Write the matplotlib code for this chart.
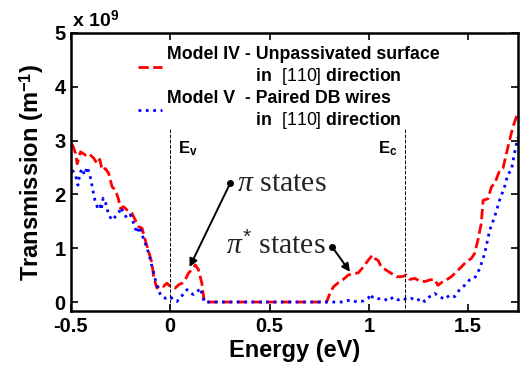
import numpy as np
import matplotlib
matplotlib.use('Agg')
import matplotlib.pyplot as plt

plt.rcParams['font.family'] = 'Liberation Sans'
plt.rcParams['mathtext.fontset'] = 'custom'
plt.rcParams['mathtext.rm'] = 'Liberation Sans'
plt.rcParams['mathtext.bf'] = 'Liberation Sans:bold'
plt.rcParams['mathtext.it'] = 'Liberation Serif:italic'

# transmission in units of 1e9 m^-1
energy_iv = [-0.494, -0.477, -0.469, -0.452, -0.427, -0.410, -0.385, -0.368, -0.355, -0.343,
             -0.327, -0.310, -0.293, -0.276, -0.260, -0.251, -0.235, -0.218, -0.193, -0.176,
             -0.159, -0.142, -0.126, -0.109, -0.092, -0.084, -0.075, -0.067, -0.050, -0.034,
             -0.017, 0.000, 0.025, 0.042, 0.059, 0.075, 0.092, 0.109, 0.126, 0.142,
             0.159, 0.171, 0.176, 0.787, 0.804, 0.821, 0.846, 0.871, 0.896, 0.921,
             0.946, 0.972, 0.997, 1.018, 1.030, 1.047, 1.063, 1.088, 1.114, 1.139,
             1.164, 1.189, 1.206, 1.231, 1.256, 1.281, 1.306, 1.331, 1.348, 1.365,
             1.390, 1.415, 1.440, 1.465, 1.491, 1.516, 1.532, 1.549, 1.566, 1.575,
             1.600, 1.617, 1.633, 1.658, 1.675, 1.692, 1.708, 1.725, 1.750]
trans_iv = [2.94, 2.76, 2.57, 2.79, 2.73, 2.76, 2.67, 2.57, 2.65, 2.45,
            2.48, 2.39, 2.14, 2.08, 1.90, 1.74, 1.77, 1.71, 1.65, 1.52,
            1.40, 1.37, 1.15, 0.94, 0.72, 0.48, 0.35, 0.26, 0.32, 0.29,
            0.35, 0.29, 0.26, 0.32, 0.35, 0.41, 0.54, 0.60, 0.69, 0.60,
            0.35, 0.01, 0.0, 0.0, 0.16, 0.28, 0.36, 0.42, 0.50, 0.53,
            0.54, 0.65, 0.78, 0.87, 0.81, 0.77, 0.65, 0.59, 0.53, 0.47,
            0.47, 0.50, 0.42, 0.44, 0.39, 0.38, 0.41, 0.42, 0.31, 0.36,
            0.41, 0.47, 0.56, 0.65, 0.75, 0.81, 0.90, 1.15, 1.46, 1.89,
            1.92, 2.14, 2.20, 2.44, 2.48, 2.75, 3.00, 3.25, 3.52]

energy_v = [-0.494, -0.477, -0.465, -0.455, -0.444, -0.432, -0.418, -0.405, -0.393, -0.380,
            -0.368, -0.355, -0.348, -0.338, -0.327, -0.310, -0.293, -0.276, -0.260, -0.248,
            -0.235, -0.218, -0.201, -0.184, -0.168, -0.156, -0.142, -0.126, -0.109, -0.092,
            -0.075, -0.059, -0.042, -0.025, 0.000, 0.017, 0.034, 0.050, 0.067, 0.084,
            0.100, 0.117, 0.134, 0.151, 0.164, 0.171, 0.871, 0.906, 0.940, 0.972,
            0.997, 1.008, 1.021, 1.047, 1.072, 1.097, 1.122, 1.147, 1.172, 1.189,
            1.214, 1.239, 1.264, 1.281, 1.306, 1.331, 1.356, 1.382, 1.407, 1.432,
            1.457, 1.482, 1.507, 1.532, 1.558, 1.583, 1.608, 1.633, 1.658, 1.683,
            1.700, 1.717, 1.734, 1.750]
trans_v = [2.45, 2.36, 2.17, 2.39, 2.48, 2.36, 2.51, 2.36, 2.14, 1.90,
           1.77, 1.83, 1.71, 1.93, 1.86, 1.62, 1.52, 1.59, 1.65, 1.76,
           1.65, 1.56, 1.62, 1.46, 1.28, 1.40, 1.25, 1.09, 0.91, 0.66,
           0.41, 0.20, 0.10, 0.07, 0.10, 0.04, 0.01, 0.10, 0.14, 0.23,
           0.17, 0.14, 0.18, 0.26, 0.10, 0.0, 0.0, 0.04, 0.0, 0.02,
           0.07, 0.15, 0.07, 0.06, 0.07, 0.02, 0.09, 0.04, 0.07, 0.04,
           0.07, 0.02, 0.07, 0.01, 0.10, 0.16, 0.10, 0.05, 0.13, 0.10,
           0.23, 0.31, 0.41, 0.44, 0.62, 0.90, 1.33, 1.58, 1.89, 2.14,
           2.38, 2.44, 2.78, 3.06]

band_edges = [0.0, 1.18]
band_labels = [r'E$_{\mathbf{v}}$', r'E$_{\mathbf{c}}$']
band_label_x = [0.04, 1.045]

indent = ' ' * 18
label_iv = 'Model IV - Unpassivated surface\n' + indent + 'in  $\\mathrm{[110]}$ direction'
label_v = 'Model V  - Paired DB wires\n' + indent + 'in  $\\mathrm{[110]}$ direction'

# annotations: text, dot (arrow start), arrow tip, text position
notes = [r'$\pi$ states', r'$\pi^{*}$ states']
note_start = [(0.302, 2.21), (0.816, 1.02)]
note_tip = [(0.097, 0.65), (0.905, 0.56)]
note_text = [(0.335, 2.2), (0.785, 1.03)]
note_ha = ['left', 'right']

fig = plt.figure(figsize=(5.22, 3.70), dpi=100)
ax = fig.add_axes([0.136, 0.159, 0.856, 0.752])

ax.plot(energy_iv, trans_iv, color='#ff0000', linestyle='--', linewidth=2.0, label=label_iv)
ax.plot(energy_v, trans_v, color='#0000ff', linestyle=':', linewidth=2.0, label=label_v)

ax.vlines(band_edges, -0.2, 3.22, colors='k', linestyles='--', linewidth=0.7)
for xe, lab in zip(band_label_x, band_labels):
    ax.text(xe, 2.76, lab, fontsize=12, fontweight='bold', ha='left', va='baseline')

for txt, s, tip, tp, ha in zip(notes, note_start, note_tip, note_text, note_ha):
    ax.annotate('', xy=tip, xytext=s,
                arrowprops=dict(arrowstyle='-|>', color='k', lw=1.4, mutation_scale=12,
                                shrinkA=0, shrinkB=0))
    ax.plot(s[0], s[1], 'ko', markersize=4)
    ax.text(tp[0], tp[1], txt, fontsize=21.5, family='Liberation Serif', ha=ha, va='center',
            color='#222222')

ax.set_xlim(-0.5, 1.75)
ax.set_ylim(-0.17, 5)
ax.set_xticks([-0.5, 0, 0.5, 1, 1.5])
ax.set_xticklabels(['-0.5', '0', '0.5', '1', '1.5'])
ax.set_yticks([0, 1, 2, 3, 4, 5])
ax.tick_params(direction='in', top=True, right=True, labelsize=14.5, width=1.2, length=5, pad=4)
for lab in ax.get_xticklabels() + ax.get_yticklabels():
    lab.set_fontweight('bold')
for sp in ax.spines.values():
    sp.set_linewidth(1.8)

ax.set_xlabel('Energy (eV)', fontsize=17, fontweight='bold', labelpad=2)
ax.set_ylabel(r'Transmission (m$^{\mathbf{-1}}$)', fontsize=17, fontweight='bold', labelpad=6)
ax.text(0.003, 1.005, r'x 10$^{\mathbf{9}}$', transform=ax.transAxes, fontsize=14,
        fontweight='bold', ha='left', va='bottom')

ax.legend(loc='upper left', bbox_to_anchor=(0.13, 0.985), frameon=False,
          prop={'weight': 'bold', 'size': 12.8}, handlelength=1.35, handletextpad=0.3,
          labelspacing=0.15, borderpad=0)

fig.savefig('out.png', dpi=100)
